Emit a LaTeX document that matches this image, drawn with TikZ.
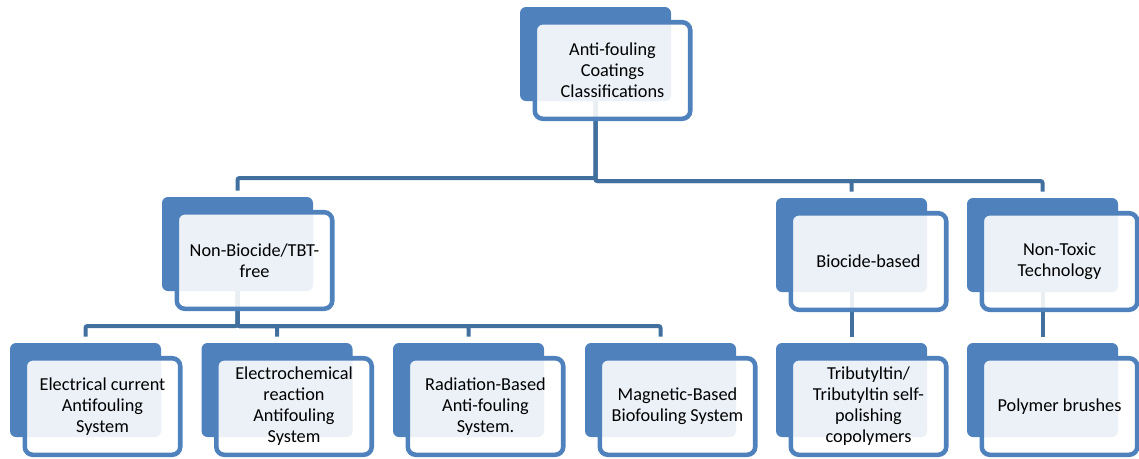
\documentclass[tikz,border=0pt]{standalone}
\usepackage{fontspec}
\setmainfont{Carlito}
\usetikzlibrary{calc,backgrounds}
\definecolor{boxblue}{HTML}{4F81BD}
\definecolor{lineblue}{HTML}{41709F}
\begin{document}
\begin{tikzpicture}[x=0.75pt,y=-0.75pt,
 backbox/.style={fill=boxblue, draw=none, rounded corners=4.5pt, minimum width=113.25pt, minimum height=70.5pt, inner sep=0pt},
 frontbox/.style={draw=boxblue, line width=3.4pt, fill=white, fill opacity=0.89, text opacity=1, rounded corners=6pt, minimum width=116.6pt, minimum height=72.4pt, align=center, font=\fontsize{13.7}{15.75}\selectfont, inner sep=0pt},
 conn/.style={draw=lineblue, line width=3pt, rounded corners=1.5pt}]
\useasboundingbox (0,0) rectangle (1139,458);
% back boxes
\node[backbox] (tb) at (595.5,54) {};
\node[backbox] (nbb) at (237.5,244) {};
\node[backbox] (bib) at (851.5,245) {};
\node[backbox] (ntb) at (1042.5,245) {};
\node[backbox] (ecb) at (85.5,390) {};
\node[backbox] (emb) at (277,390) {};
\node[backbox] (rab) at (468.5,390) {};
\node[backbox] (mab) at (660.5,390) {};
\node[backbox] (trb) at (851.5,390) {};
\node[backbox] (pob) at (1042.5,390) {};
% front boxes
\node[frontbox] (tf) at ($(tb)+(17,16.5)$) {Anti-fouling\\Coatings\\Classifications};
\node[frontbox] (nbf) at ($(nbb)+(17,16.5)$) {Non-Biocide/TBT-\\free};
\node[frontbox] (bif) at ($(bib)+(17,16.5)$) {Biocide-based};
\node[frontbox] (ntf) at ($(ntb)+(17,16.5)$) {Non-Toxic\\Technology};
\node[frontbox] (ecf) at ($(ecb)+(17,16.5)$) {Electrical current\\Antifouling\\System};
\node[frontbox] (emf) at ($(emb)+(17,16.5)$) {Electrochemical\\reaction\\Antifouling\\System};
\node[frontbox] (raf) at ($(rab)+(17,16.5)$) {Radiation-Based\\Anti-fouling\\System.};
\node[frontbox] (maf) at ($(mab)+(17,16.5)$) {Magnetic-Based\\Biofouling System};
\node[frontbox] (trf) at ($(trb)+(17,16.5)$) {Tributyltin/\\Tributyltin self-\\polishing\\copolymers};
\node[frontbox] (pof) at ($(pob)+(17,16.5)$) {Polymer brushes};
% connectors
\begin{scope}[on background layer]
\draw[conn] (tb.center) -- ++(0,124) -| ($(nbb.north)+(0,-6)$);
\draw[conn] (tb.center) -- ++(0,127) -| ($(bib.north)+(0,-6)$);
\draw[conn] (tb.center) -- ++(0,127) -| ($(ntb.north)+(0,-6)$);
\draw[conn] (nbb.center) -- ++(0,82) -| ($(ecb.north)+(0,-6)$);
\draw[conn] (nbb.center) -- ++(0,82) -| ($(emb.north)+(0,-6)$);
\draw[conn] (nbb.center) -- ++(0,82) -| ($(rab.north)+(0,-6)$);
\draw[conn] (nbb.center) -- ++(0,82) -| ($(mab.north)+(0,-6)$);
\draw[conn] (bib.center) -- ($(trb.north)+(0,-6)$);
\draw[conn] (ntb.center) -- ($(pob.north)+(0,-6)$);
\end{scope}
\end{tikzpicture}
\end{document}
